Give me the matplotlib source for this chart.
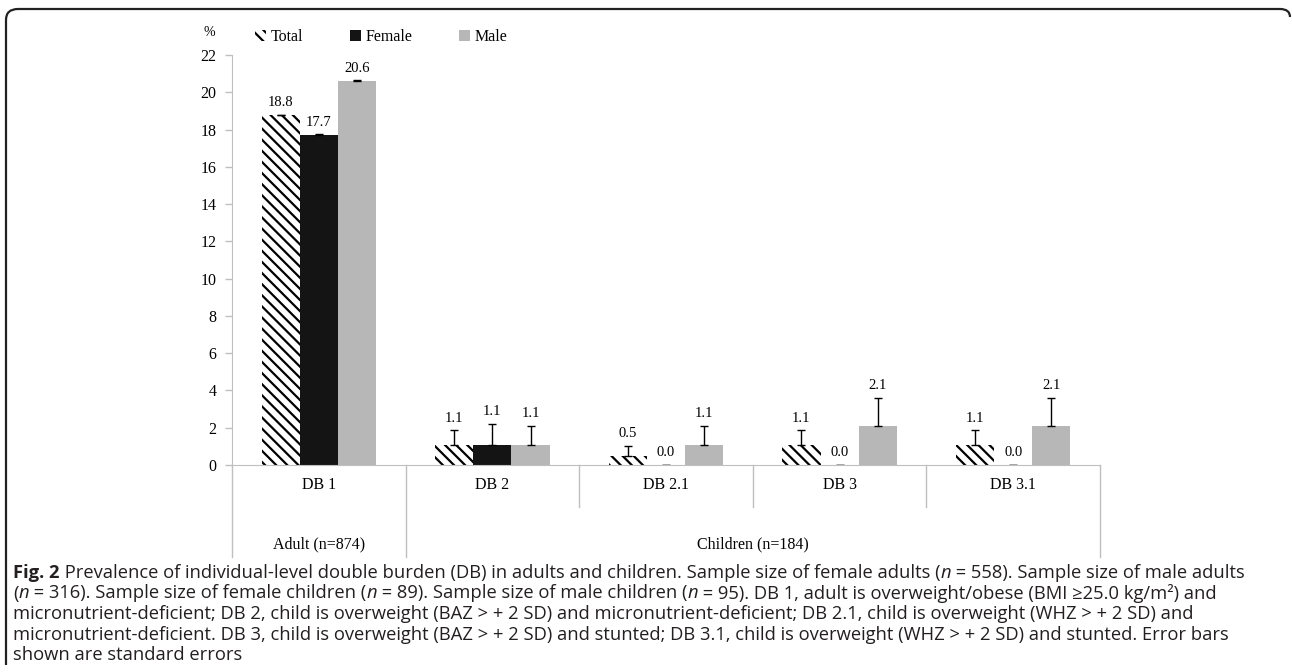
import numpy as np
import matplotlib
matplotlib.use('Agg')
import matplotlib.pyplot as plt
from matplotlib.patches import Patch, PathPatch
from matplotlib.path import Path
import matplotlib.transforms as mtransforms

plt.rcParams['hatch.linewidth'] = 1.6

# data
groups = ['DB 1', 'DB 2', 'DB 2.1', 'DB 3', 'DB 3.1']
total = [18.8, 1.1, 0.5, 1.1, 1.1]
female = [17.7, 1.1, 0.0, 0.0, 0.0]
male = [20.6, 1.05, 1.05, 2.1, 2.1]
total_err = [0.0, 0.77, 0.52, 0.77, 0.77]
female_err = [0.05, 1.12, 0.0, 0.0, 0.0]
male_err = [0.05, 1.05, 1.05, 1.5, 1.5]
total_lab = ['18.8', '1.1', '0.5', '1.1', '1.1']
female_lab = ['17.7', '1.1', '0.0', '0.0', '0.0']
male_lab = ['20.6', '1.1', '1.1', '2.1', '2.1']
yticks = np.arange(0, 23, 2)

W, H = 1292, 672
fig = plt.figure(figsize=(W/100, H/100), dpi=100)
ax = fig.add_axes([232/W, 1-465/H, (1100-232)/W, 410/H])

serif = 'Liberation Serif'
grey_ax = '#BFBFBF'
x = np.arange(len(groups))
bw = 0.22

ax.bar(x-bw, total, bw, facecolor='white', edgecolor='black', hatch='\\\\\\', linewidth=0)
ax.bar(x, female, bw, color='#141414', linewidth=0)
ax.bar(x+bw, male, bw, color='#B7B7B7', linewidth=0)

for xs, v, e in [(x-bw, total, total_err), (x, female, female_err), (x+bw, male, male_err)]:
    ax.errorbar(xs, v, yerr=[np.zeros(len(v)), e], fmt='none', ecolor='black',
                elinewidth=1, capsize=3, capthick=1)

for xs, v, e, labs in [(x-bw, total, total_err, total_lab), (x, female, female_err, female_lab),
                       (x+bw, male, male_err, male_lab)]:
    for xi, vi, ei, lab in zip(xs, v, e, labs):
        ax.annotate(lab, (xi, vi+ei), xytext=(0, 4), textcoords='offset points',
                    ha='center', va='bottom', fontsize=10.5, family=serif)

ax.set_xlim(-0.5, 4.5)
ax.set_ylim(0, 22)
ax.set_yticks(yticks)
ax.set_yticklabels([str(t) for t in yticks], family=serif, fontsize=11.5)
ax.tick_params(axis='y', colors=grey_ax, labelcolor='black', length=5, width=1, pad=6)
ax.set_xticks([])
for s in ['top', 'right']:
    ax.spines[s].set_visible(False)
ax.spines['left'].set_color(grey_ax)
ax.spines['bottom'].set_color(grey_ax)

# category table below the axis
tr = mtransforms.blended_transform_factory(ax.transData, ax.transAxes)
row1 = -(507-465)/410
row2 = -(557-465)/410
ax.plot([-0.5, -0.5], [0, row2], color=grey_ax, lw=1, transform=tr, clip_on=False)
ax.plot([0.5, 0.5], [0, row2], color=grey_ax, lw=1, transform=tr, clip_on=False)
ax.plot([4.5, 4.5], [0, row2], color=grey_ax, lw=1, transform=tr, clip_on=False)
for sx in [1.5, 2.5, 3.5]:
    ax.plot([sx, sx], [0, row1], color=grey_ax, lw=1, transform=tr, clip_on=False)
for xi, g in zip(x, groups):
    ax.text(xi, -(485-465)/410, g, transform=tr, ha='center', va='center',
            fontsize=11.5, family=serif)
ax.text(0, -(544-465)/410, 'Adult (n=874)', transform=tr, ha='center', va='center',
        fontsize=11.5, family=serif)
ax.text(2.5, -(544-465)/410, 'Children (n=184)', transform=tr, ha='center', va='center',
        fontsize=11.5, family=serif)

# legend and unit
handles = [Patch(facecolor='white', edgecolor='black', hatch='\\\\\\', linewidth=0),
           Patch(facecolor='#141414'), Patch(facecolor='#B7B7B7')]
fig.legend(handles, ['Total', 'Female', 'Male'], loc='center left',
           bbox_to_anchor=(255/W, 1-37/H), ncol=3, frameon=False,
           prop={'family': serif, 'size': 11.5}, handlelength=0.7, handleheight=0.7,
           handletextpad=0.3, columnspacing=2.9, borderpad=0, borderaxespad=0)
fig.text(209/W, 1-32/H, '%', ha='center', va='center', fontsize=10, family=serif)

# frame
px = lambda a, b: (a/W, 1-b/H)
verts = [px(6, 665), px(6, 20), px(6, 9), px(18, 9), px(1280, 9), px(1290, 9), px(1290, 17)]
codes = [Path.MOVETO, Path.LINETO, Path.CURVE3, Path.CURVE3, Path.LINETO, Path.CURVE3, Path.CURVE3]
fig.add_artist(PathPatch(Path(verts, codes), fill=False, edgecolor='#222222', lw=1.6,
                         transform=fig.transFigure))

# caption
cap = ['Open Sans', 'DejaVu Sans']
lines = [
    [('Fig. 2', 'bold', 'normal'),
     (' Prevalence of individual-level double burden (DB) in adults and children. Sample size of female adults (', 'normal', 'normal'),
     ('n', 'normal', 'italic'), (' = 558). Sample size of male adults', 'normal', 'normal')],
    [('(', 'normal', 'normal'), ('n', 'normal', 'italic'),
     (' = 316). Sample size of female children (', 'normal', 'normal'), ('n', 'normal', 'italic'),
     (' = 89). Sample size of male children (', 'normal', 'normal'), ('n', 'normal', 'italic'),
     (' = 95). DB 1, adult is overweight/obese (BMI \u226525.0 kg/m\u00b2) and', 'normal', 'normal')],
    [('micronutrient-deficient; DB 2, child is overweight (BAZ > + 2 SD) and micronutrient-deficient; DB 2.1, child is overweight (WHZ > + 2 SD) and', 'normal', 'normal')],
    [('micronutrient-deficient. DB 3, child is overweight (BAZ > + 2 SD) and stunted; DB 3.1, child is overweight (WHZ > + 2 SD) and stunted. Error bars', 'normal', 'normal')],
    [('shown are standard errors', 'normal', 'normal')],
]
r = fig.canvas.get_renderer()
y0 = 573
for i, runs in enumerate(lines):
    cx = 13
    for txt, wt, st in runs:
        t = fig.text(cx/W, 1-(y0+i*20.5)/H, txt, ha='left', va='center', fontsize=13.2,
                     family=cap, weight=wt, style=st, color='#231F20')
        bb = t.get_window_extent(renderer=r)
        cx += bb.width

fig.savefig('out.png', dpi=100)
